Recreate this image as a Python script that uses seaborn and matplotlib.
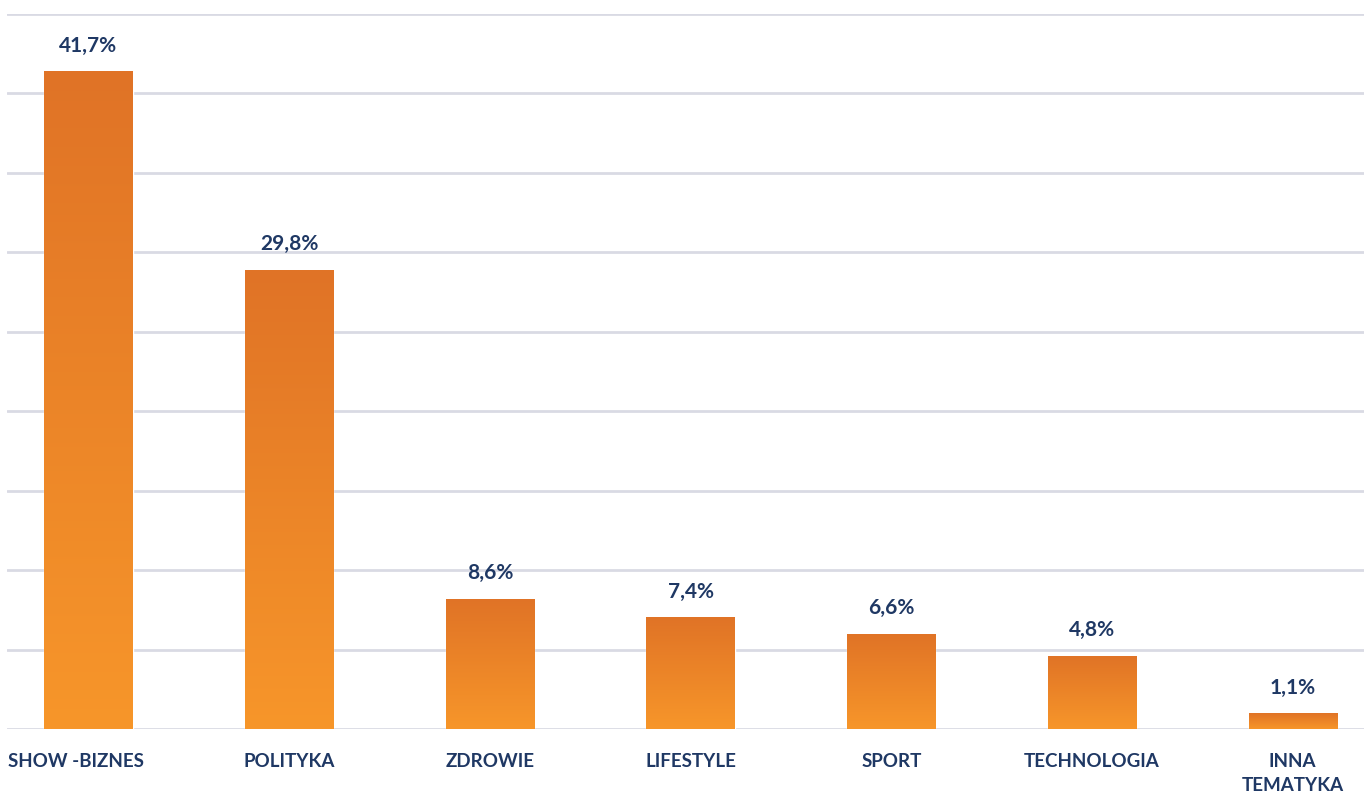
import numpy as np
import pandas as pd
import seaborn as sns
import matplotlib.pyplot as plt
from matplotlib.colors import LinearSegmentedColormap
from matplotlib.transforms import ScaledTranslation

categories = ["SHOW -BIZNES", "POLITYKA", "ZDROWIE", "LIFESTYLE", "SPORT", "TECHNOLOGIA", "INNA\nTEMATYKA"]
# bar heights as drawn in the picture (read against the 5% gridlines)
bar_heights = [41.4, 28.9, 8.2, 7.05, 6.0, 4.6, 1.0]
value_labels = ["41,7%", "29,8%", "8,6%", "7,4%", "6,6%", "4,8%", "1,1%"]

df = pd.DataFrame({"category": categories, "value": bar_heights})

sns.set_style("white")
plt.rcParams["font.family"] = ["Lato", "DejaVu Sans"]

navy = "#1F3864"
grad = LinearSegmentedColormap.from_list("orange_grad", ["#F7962A", "#E07326"])

W, H = 1364, 797
fig = plt.figure(figsize=(W / 100, H / 100), dpi=100)
ax = fig.add_axes([7 / W, (H - 729) / H, (W - 7) / W, (729 - 14) / H])

sns.barplot(data=df, x="category", y="value", color="#EC8427", width=0.44,
            ax=ax, zorder=3, saturation=1)

# gradient fill for each bar, dark at the top, light at the bottom
gradient = np.linspace(0, 1, 256).reshape(-1, 1)
for patch in ax.patches:
    x0, y0 = patch.get_x(), patch.get_y()
    w, h = patch.get_width(), patch.get_height()
    im = ax.imshow(gradient, cmap=grad, aspect="auto", origin="lower",
                   extent=(x0, x0 + w, y0, y0 + h), zorder=4)
    im.set_clip_path(patch)

ax.set_xlim(-0.406, 6.355)
ax.set_ylim(0, 45)
ax.set_yticks(np.arange(0, 46, 5))
ax.yaxis.grid(True, color="#D9DAE4", linewidth=2, zorder=0)
ax.set_axisbelow(True)
for s in ax.spines.values():
    s.set_visible(False)

ax.set_xlabel("")
ax.set_ylabel("")
ax.tick_params(axis="y", left=False, labelleft=False)
ax.tick_params(axis="x", bottom=False, pad=14)
ax.set_xticks(range(len(categories)))
ax.set_xticklabels(categories, fontsize=13.5, fontweight="bold", color=navy,
                   va="top", linespacing=1.45)
# first label is pushed right to stay inside the picture
first = ax.get_xticklabels()[0]
first.set_transform(first.get_transform() + ScaledTranslation(-0.13, 0, fig.dpi_scale_trans))

for i, (v, lab) in enumerate(zip(bar_heights, value_labels)):
    ax.annotate(lab, (i, v), xytext=(0, 14), textcoords="offset points",
                ha="center", va="baseline", fontsize=15, fontweight="bold",
                color=navy, zorder=5)

fig.savefig("out.png", dpi=100, facecolor="white")
